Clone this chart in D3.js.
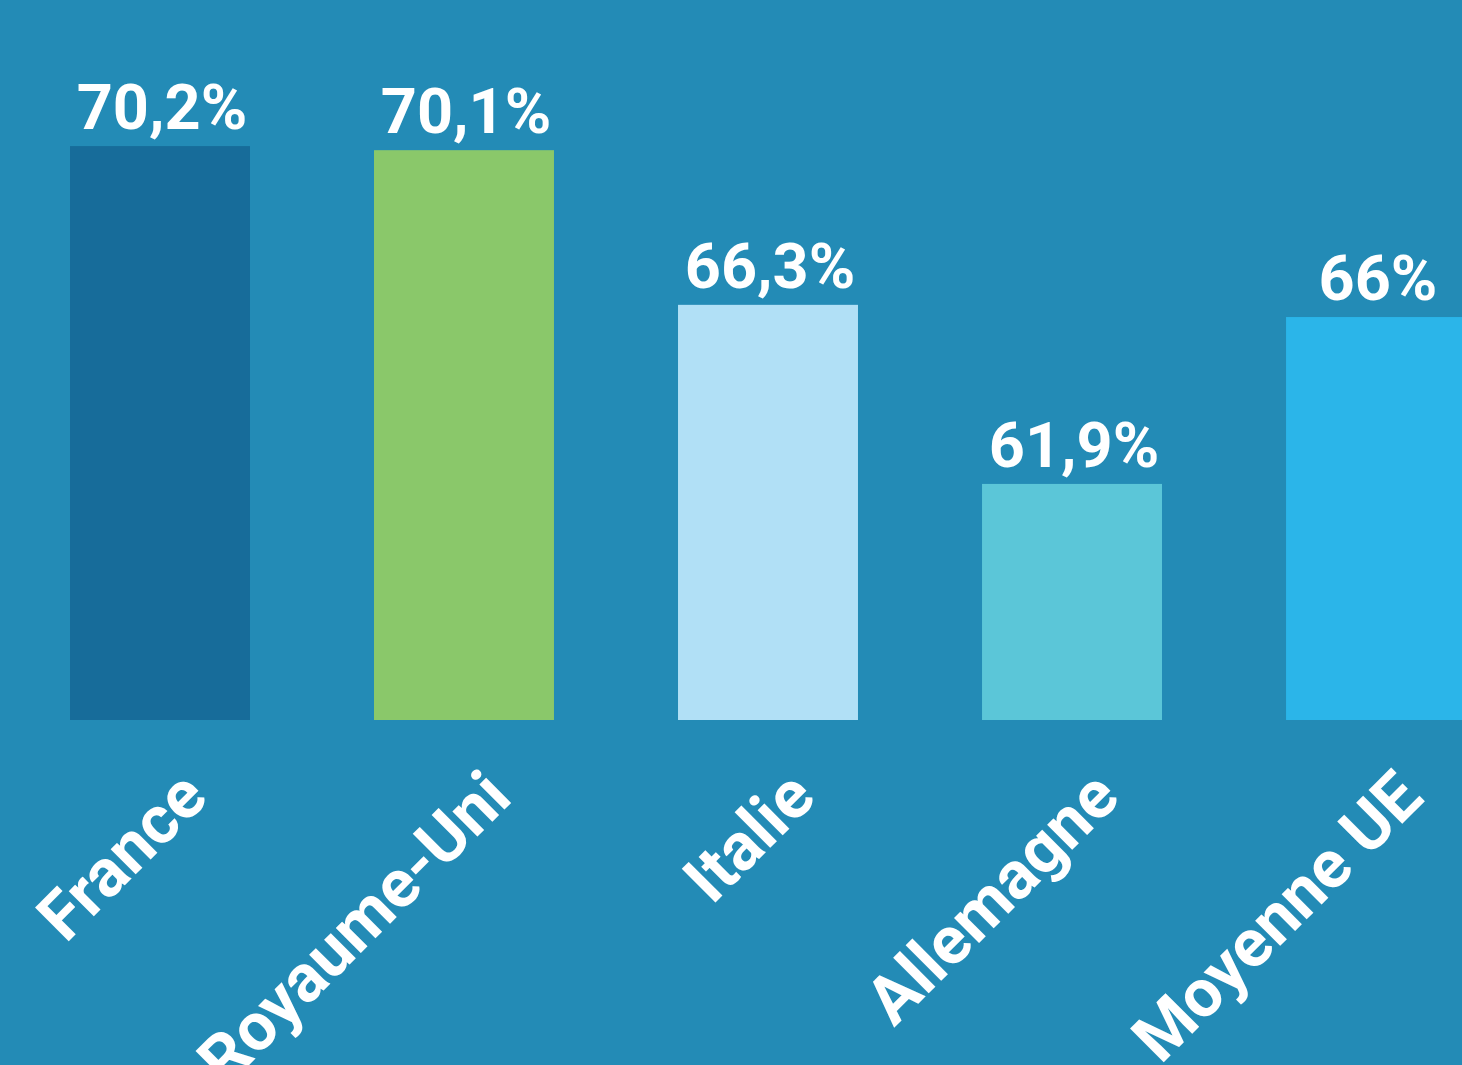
<!DOCTYPE html>
<html>
<head>
<meta charset="utf-8">
<script src="https://cdn.jsdelivr.net/npm/d3@7"></script>
<style>
  html, body { margin: 0; padding: 0; background: #238BB6; }
  svg { display: block; }
</style>
</head>
<body>
<script>
const categories = ["France", "Royaume-Uni", "Italie", "Allemagne", "Moyenne UE"];
const values = [70.2, 70.1, 66.3, 61.9, 66];
const valueLabels = ["70,2%", "70,1%", "66,3%", "61,9%", "66%"];
const colors = ["#176C9A", "#8AC86A", "#B1E0F6", "#5BC6D8", "#2BB5E9"];

const W = 1462, H = 1065;
const svg = d3.select("body").append("svg").attr("width", W).attr("height", H);
svg.append("rect").attr("width", W).attr("height", H).attr("fill", "#238BB6");

const x = d3.scaleBand().domain(categories).range([70, 1466]).paddingInner(0.408).paddingOuter(0);
const y = d3.scaleLinear().domain([56.1, 70.2]).range([720, 146.1]);

const data = categories.map((c, i) => ({ c, v: values[i], label: valueLabels[i], color: colors[i] }));

svg.selectAll("rect.bar").data(data).join("rect")
  .attr("class", "bar")
  .attr("x", d => x(d.c))
  .attr("y", d => y(d.v))
  .attr("width", x.bandwidth())
  .attr("height", d => y.range()[0] - y(d.v))
  .attr("fill", d => d.color);

svg.selectAll("text.val").data(data).join("text")
  .attr("class", "val")
  .attr("x", d => x(d.c) + x.bandwidth() / 2 + 2)
  .attr("y", d => y(d.v) - 17)
  .attr("text-anchor", "middle")
  .attr("fill", "#fff")
  .style("font-family", "Roboto, 'Liberation Sans', sans-serif")
  .style("font-weight", 700)
  .style("font-size", "63px")
  .text(d => d.label);

svg.selectAll("text.cat").data(data).join("text")
  .attr("class", "cat")
  .attr("transform", d => `translate(${x(d.c) + x.bandwidth() / 2 + 50},800) rotate(-45)`)
  .attr("text-anchor", "end")
  .attr("fill", "#fff")
  .style("font-family", "Roboto, 'Liberation Sans', sans-serif")
  .style("font-weight", 700)
  .style("font-size", "67px")
  .text(d => d.c);
</script>
</body>
</html>
